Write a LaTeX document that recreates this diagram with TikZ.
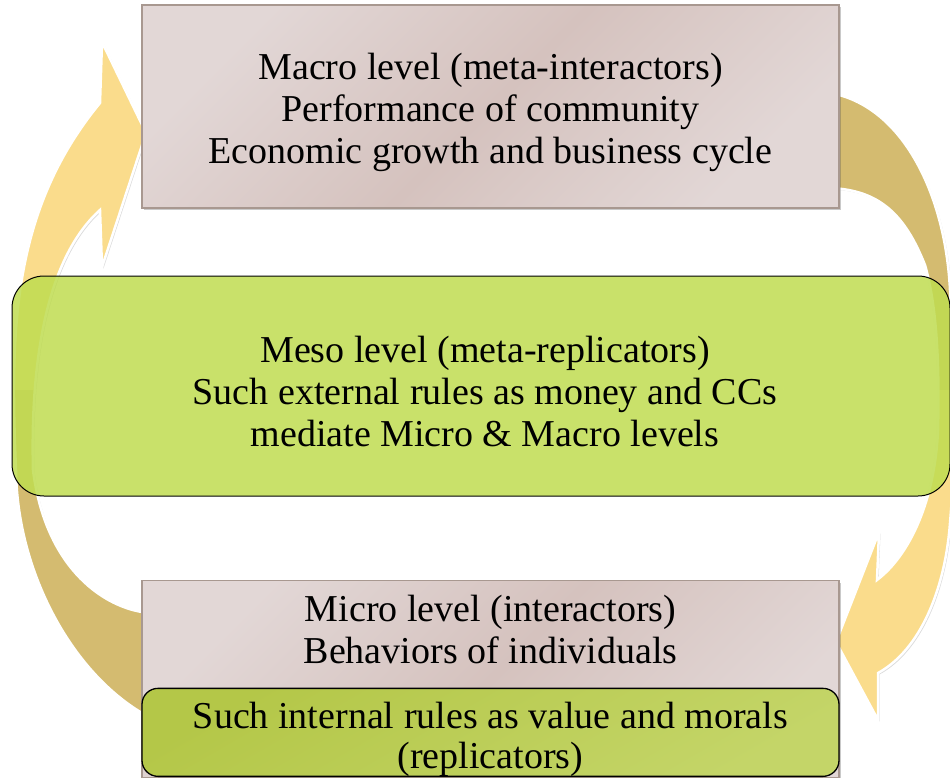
\documentclass[tikz,border=0pt]{standalone}
\usepackage{fontspec}
\setmainfont{Liberation Serif}
\usepackage{tikz}
\usetikzlibrary{positioning,shadows}

\definecolor{boxpinkA}{HTML}{E2D7D6}
\definecolor{boxpinkB}{HTML}{D5C2BE}
\definecolor{boxline}{HTML}{A89890}
\definecolor{mesogreen}{HTML}{BFDC50}
\definecolor{rulesA}{HTML}{B4C748}
\definecolor{rulesB}{HTML}{C4D568}
\definecolor{arrowyellow}{HTML}{FADC8C}
\definecolor{arrowtan}{HTML}{D4BB70}

\tikzset{
  levelbox/.style={rectangle, draw=boxline, line width=1.2pt,
    left color=boxpinkA, right color=boxpinkA, middle color=boxpinkB,
    shading angle=45, minimum width=697pt, inner sep=0pt,
    drop shadow={shadow xshift=2pt, shadow yshift=-2pt, opacity=.3, fill=black!70}},
  mesobox/.style={rectangle, rounded corners=32pt, draw=black, line width=1pt,
    fill=mesogreen, fill opacity=.85,
    minimum width=938pt, minimum height=220pt, inner sep=0pt},
  rulesbox/.style={rectangle, rounded corners=16pt, draw=black, line width=1.3pt,
    left color=rulesA, right color=rulesB, shading angle=30,
    minimum width=697pt, minimum height=88pt, inner sep=0pt},
  txt/.style={align=center, font=\fontsize{38}{42}\selectfont, inner sep=0pt},
}

% outlines of the two circular arrows (pixel units, y down)
\def\loopup{(160,713) -- (142,713) .. controls (70,670) and (17,570) .. (16,470)
  .. controls (10,330) and (12,210) .. (100,103) -- (102,42) -- (146,133)
  -- (102,267) -- (100,210) .. controls (50,255) and (30,350) .. (33,470)
  .. controls (45,565) and (100,605) .. (142,612) -- (160,612) -- cycle}
\def\loopdown{(830,93) .. controls (900,105) and (945,190) .. (950,290)
  .. controls (955,380) and (957,440) .. (950,523)
  .. controls (945,590) and (920,650) .. (878,673) -- (878,720) -- (836,642)
  -- (879,532) -- (877,580) .. controls (910,555) and (935,500) .. (938,430)
  .. controls (940,350) and (935,300) .. (925,265)
  .. controls (905,215) and (880,190) .. (830,188) -- cycle}

\begin{document}
\begin{tikzpicture}[x=1pt,y=-1pt]
  \useasboundingbox (0,0) rectangle (950,778);
  \clip (0,0) rectangle (950,778);

  % circular arrows
  \fill[black, opacity=.15, xshift=1.5pt, yshift=-1.5pt] \loopup;
  \fill[black, opacity=.15, xshift=1.5pt, yshift=-1.5pt] \loopdown;
  \begin{scope}
    \clip \loopup;
    \fill[arrowyellow] (0,0) rectangle (950,390);
    \fill[arrowtan] (0,390) rectangle (950,778);
  \end{scope}
  \begin{scope}
    \clip \loopdown;
    \fill[arrowtan] (0,0) rectangle (960,390);
    \fill[arrowyellow] (0,390) rectangle (960,778);
  \end{scope}
  \draw[white, line width=2.5pt, line join=miter] \loopup;
  \draw[white, line width=2.5pt, line join=miter] \loopdown;

  % levels
  \node (macro) [levelbox, minimum height=203pt] at (490.5,106.5) {};
  \node (macrotxt) [txt] at (490.5,112)
    {Macro level (meta-interactors)\\Performance of community\\Economic growth and business cycle};
  \node (meso) [mesobox] at (481,386) {};
  \node (mesotxt) [txt] at (485,391)
    {Meso level (meta-replicators)\\Such external rules as money and CCs\\mediate Micro \& Macro levels};
  \node (micro) [levelbox, minimum height=197pt, anchor=north] at (490.5,580) {};
  \node (microtxt) [txt, below=15pt of micro.north] {Micro level (interactors)\\Behaviors of individuals};
  \node (rules) [rulesbox, anchor=south] at (490.5,777) {};
  \node (rulestxt) [txt, font=\fontsize{38}{40}\selectfont] at (490.5,739)
    {Such internal rules as value and morals\\(replicators)};
\end{tikzpicture}
\end{document}
